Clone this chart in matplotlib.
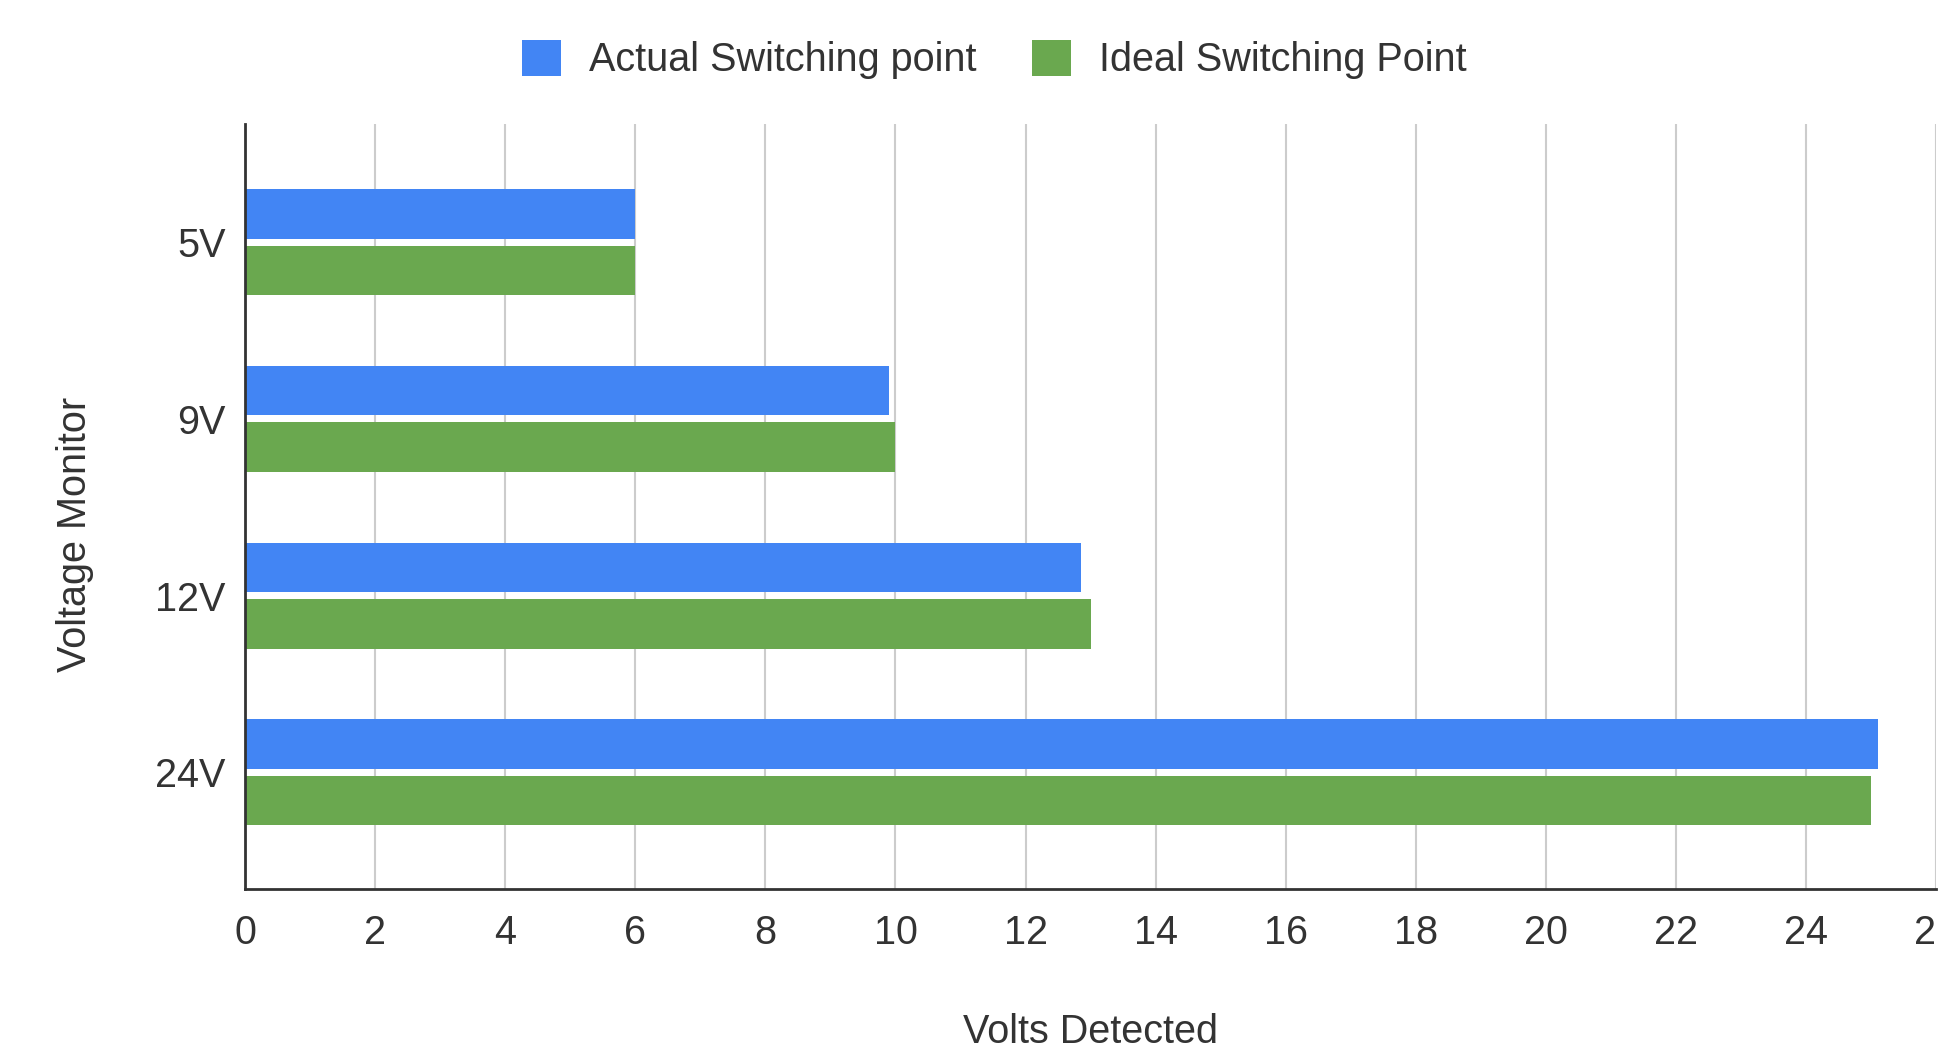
import matplotlib
matplotlib.use("Agg")
import matplotlib.pyplot as plt
from matplotlib.patches import Patch
import numpy as np

matplotlib.rcParams["font.family"] = ["Liberation Sans", "DejaVu Sans"]

monitors = ["5V", "9V", "12V", "24V"]
actual = [6.0, 9.9, 12.85, 25.1]
ideal = [6.0, 10.0, 13.0, 25.0]
xticks = list(range(0, 28, 2))

blue = "#4285F4"
green = "#6AA84F"
text_color = "#333333"
fs = 28.5

fig = plt.figure(figsize=(19.38, 10.49), dpi=100)
ax = fig.add_axes([0.1264, 0.1525, 0.8727, 0.7295])

y = np.arange(len(monitors))
h = 0.28
ax.barh(y - 0.16, actual, height=h, color=blue, zorder=3)
ax.barh(y + 0.16, ideal, height=h, color=green, zorder=3)

ax.set_xlim(0, 26)
ax.set_ylim(3.66, -0.67)
ax.set_xticks(xticks)
ax.set_yticks(y)
ax.set_yticklabels(monitors)
ax.tick_params(axis="both", length=0, labelsize=fs, colors=text_color)
ax.tick_params(axis="x", pad=18)
ax.tick_params(axis="y", pad=14)
ax.grid(True, axis="x", color="#cccccc", linewidth=1.5, zorder=0)

for s in ["top", "right"]:
    ax.spines[s].set_visible(False)
ax.spines["left"].set_color("#333333")
ax.spines["left"].set_linewidth(2)
ax.spines["bottom"].set_color("#333333")
ax.spines["bottom"].set_linewidth(2)
ax.spines["left"].set_zorder(4)

ax.set_xlabel("Volts Detected", fontsize=fs, color=text_color, labelpad=44)
ax.set_ylabel("Voltage Monitor", fontsize=fs, color=text_color)
ax.yaxis.set_label_coords(-0.089, 0.463)

handles = [Patch(facecolor=blue, label="Actual Switching point"),
           Patch(facecolor=green, label="Ideal Switching Point")]
leg = fig.legend(handles=handles, loc="center", bbox_to_anchor=(0.513, 0.943),
                 ncol=2, frameon=False, fontsize=fs, handlelength=1.0,
                 handleheight=1.0, handletextpad=0.7, columnspacing=1.4)
for t in leg.get_texts():
    t.set_color(text_color)

fig.savefig("out.png", dpi=100)
